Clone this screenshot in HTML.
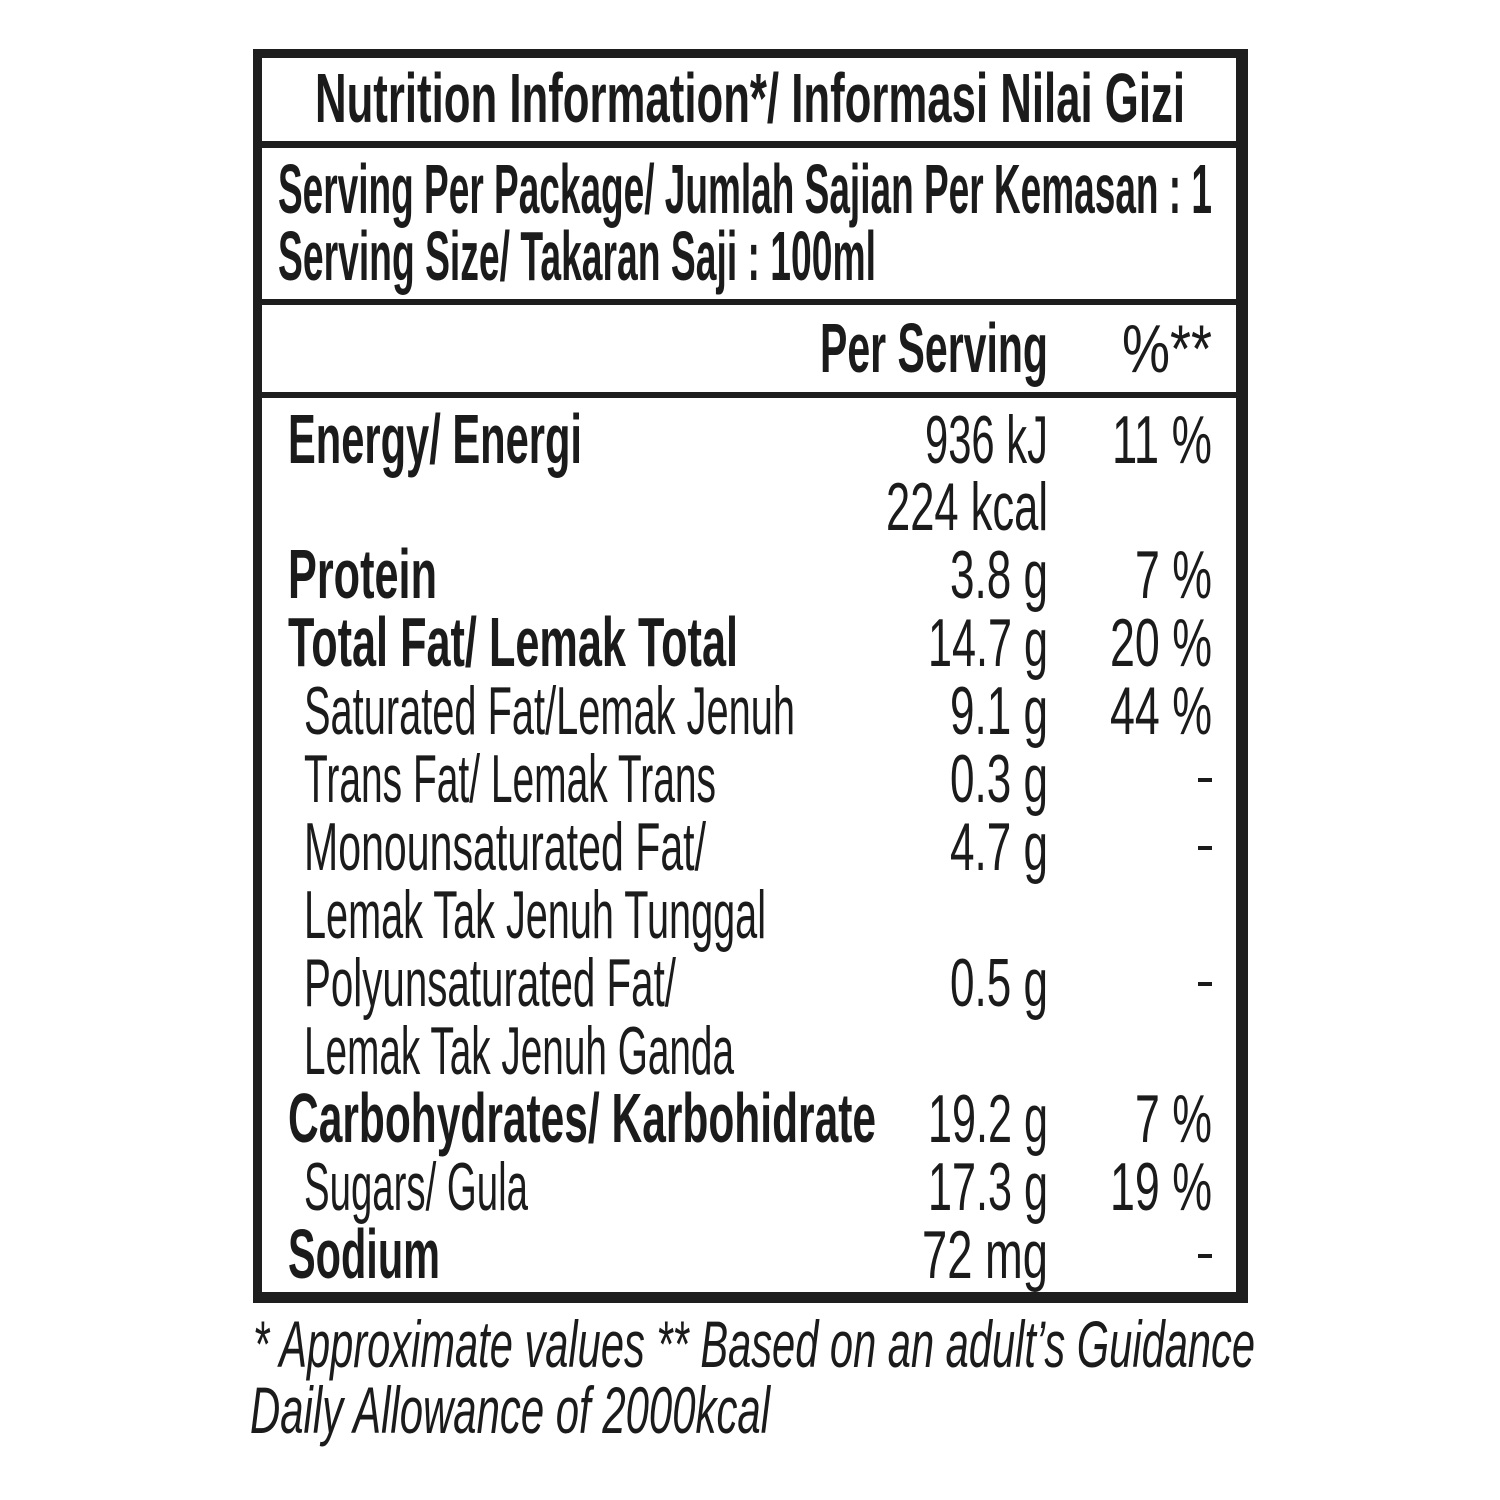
<!DOCTYPE html>
<html>
<head>
<meta charset="utf-8">
<style>
  html, body { margin: 0; padding: 0; background: #ffffff; }
  svg { display: block; }
  text { fill: #1b1b1b; font-family: "Liberation Sans", Arial, sans-serif; }
  .b { font-weight: bold; font-size: 70px; }
  .r { font-weight: normal; font-size: 68px; }
  .i { font-style: italic; font-weight: normal; font-size: 66px; }
</style>
</head>
<body>
<svg width="1500" height="1500" viewBox="0 0 1500 1500" xmlns="http://www.w3.org/2000/svg">
  <rect x="0" y="0" width="1500" height="1500" fill="#ffffff"/>

  <!-- outer frame -->
  <rect x="253" y="49" width="995" height="9" fill="#1e1e1e"/>
  <rect x="253" y="49" width="9" height="1254" fill="#1e1e1e"/>
  <rect x="1236" y="49" width="12" height="1254" fill="#1e1e1e"/>
  <rect x="253" y="1292" width="995" height="11" fill="#1e1e1e"/>
  <!-- separators -->
  <rect x="253" y="141" width="995" height="7" fill="#1e1e1e"/>
  <rect x="253" y="299" width="995" height="6" fill="#1e1e1e"/>
  <rect x="253" y="392" width="995" height="6" fill="#1e1e1e"/>

  <!-- title -->
  <text class="b" x="315" y="122" textLength="870" lengthAdjust="spacingAndGlyphs">Nutrition Information*/ Informasi Nilai Gizi</text>

  <!-- serving info -->
  <text class="b" x="278" y="213" textLength="934" lengthAdjust="spacingAndGlyphs">Serving Per Package/ Jumlah Sajian Per Kemasan : 1</text>
  <text class="b" x="278" y="280" textLength="598" lengthAdjust="spacingAndGlyphs">Serving Size/ Takaran Saji : 100ml</text>

  <!-- column headers -->
  <text class="b" x="820" y="372" textLength="228" lengthAdjust="spacingAndGlyphs">Per Serving</text>
  <text class="r" x="1122" y="372" textLength="90" lengthAdjust="spacingAndGlyphs">%**</text>

  <!-- rows -->
  <text class="b" x="288" y="463" textLength="294" lengthAdjust="spacingAndGlyphs">Energy/ Energi</text>
  <text class="r" x="925" y="463" textLength="123" lengthAdjust="spacingAndGlyphs">936 kJ</text>
  <text class="r" x="1112" y="463" textLength="100" lengthAdjust="spacingAndGlyphs">11 %</text>

  <text class="r" x="886" y="530" textLength="162" lengthAdjust="spacingAndGlyphs">224 kcal</text>

  <text class="b" x="288" y="598" textLength="149" lengthAdjust="spacingAndGlyphs">Protein</text>
  <text class="r" x="950" y="598" textLength="98" lengthAdjust="spacingAndGlyphs">3.8 g</text>
  <text class="r" x="1135" y="598" textLength="77" lengthAdjust="spacingAndGlyphs">7 %</text>

  <text class="b" x="288" y="666" textLength="450" lengthAdjust="spacingAndGlyphs">Total Fat/ Lemak Total</text>
  <text class="r" x="928" y="666" textLength="120" lengthAdjust="spacingAndGlyphs">14.7 g</text>
  <text class="r" x="1110" y="666" textLength="102" lengthAdjust="spacingAndGlyphs">20 %</text>

  <text class="r" x="304" y="734" textLength="491" lengthAdjust="spacingAndGlyphs">Saturated Fat/Lemak Jenuh</text>
  <text class="r" x="950" y="734" textLength="98" lengthAdjust="spacingAndGlyphs">9.1 g</text>
  <text class="r" x="1110" y="734" textLength="102" lengthAdjust="spacingAndGlyphs">44 %</text>

  <text class="r" x="304" y="802" textLength="412" lengthAdjust="spacingAndGlyphs">Trans Fat/ Lemak Trans</text>
  <text class="r" x="950" y="802" textLength="98" lengthAdjust="spacingAndGlyphs">0.3 g</text>
  <rect x="1198" y="778" width="14" height="4" fill="#1b1b1b"/>

  <text class="r" x="304" y="870" textLength="402" lengthAdjust="spacingAndGlyphs">Monounsaturated Fat/</text>
  <text class="r" x="950" y="870" textLength="98" lengthAdjust="spacingAndGlyphs">4.7 g</text>
  <rect x="1198" y="846" width="14" height="4" fill="#1b1b1b"/>

  <text class="r" x="304" y="938" textLength="462" lengthAdjust="spacingAndGlyphs">Lemak Tak Jenuh Tunggal</text>

  <text class="r" x="304" y="1006" textLength="372" lengthAdjust="spacingAndGlyphs">Polyunsaturated Fat/</text>
  <text class="r" x="950" y="1006" textLength="98" lengthAdjust="spacingAndGlyphs">0.5 g</text>
  <rect x="1198" y="982" width="14" height="4" fill="#1b1b1b"/>

  <text class="r" x="304" y="1074" textLength="430" lengthAdjust="spacingAndGlyphs">Lemak Tak Jenuh Ganda</text>

  <text class="b" x="288" y="1142" textLength="588" lengthAdjust="spacingAndGlyphs">Carbohydrates/ Karbohidrate</text>
  <text class="r" x="928" y="1142" textLength="120" lengthAdjust="spacingAndGlyphs">19.2 g</text>
  <text class="r" x="1135" y="1142" textLength="77" lengthAdjust="spacingAndGlyphs">7 %</text>

  <text class="r" x="304" y="1210" textLength="224" lengthAdjust="spacingAndGlyphs">Sugars/ Gula</text>
  <text class="r" x="928" y="1210" textLength="120" lengthAdjust="spacingAndGlyphs">17.3 g</text>
  <text class="r" x="1110" y="1210" textLength="102" lengthAdjust="spacingAndGlyphs">19 %</text>

  <text class="b" x="288" y="1278" textLength="152" lengthAdjust="spacingAndGlyphs">Sodium</text>
  <text class="r" x="922" y="1278" textLength="126" lengthAdjust="spacingAndGlyphs">72 mg</text>
  <rect x="1198" y="1254" width="14" height="4" fill="#1b1b1b"/>

  <!-- footer -->
  <text class="i" x="253" y="1367" textLength="1002" lengthAdjust="spacingAndGlyphs">* Approximate values  ** Based on an adult’s Guidance</text>
  <text class="i" x="250" y="1433" textLength="520" lengthAdjust="spacingAndGlyphs">Daily Allowance of 2000kcal</text>
</svg>
</body>
</html>
